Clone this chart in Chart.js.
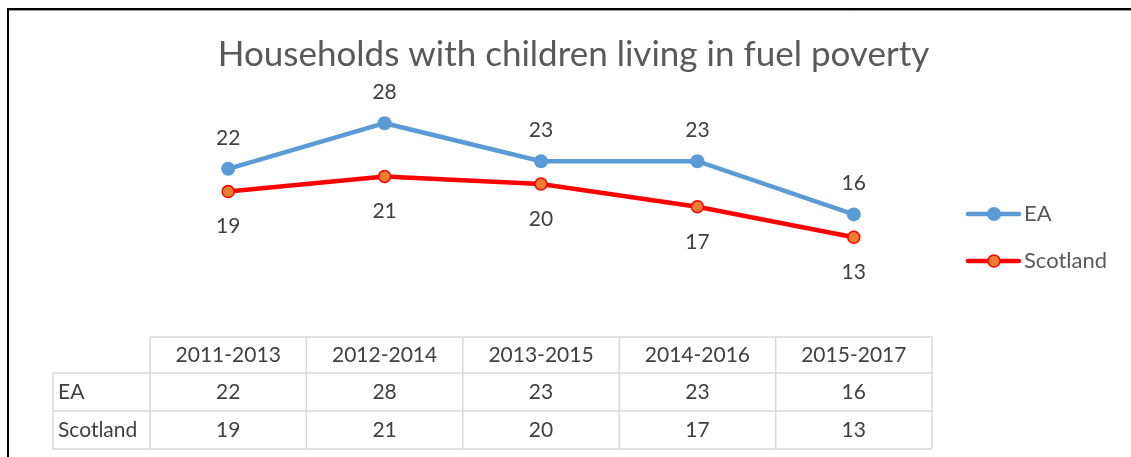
<!DOCTYPE html>
<html>
<head>
<meta charset="utf-8">
<script src="https://cdn.jsdelivr.net/npm/chart.js@4/dist/chart.umd.min.js"></script>
<style>
  html, body { margin: 0; padding: 0; background: #fff; }
  #wrap { position: relative; width: 1131px; height: 457px; }
</style>
</head>
<body>
<div id="wrap"><canvas id="c" width="1131" height="457"></canvas></div>
<script>
const categories = ['2011-2013', '2012-2014', '2013-2015', '2014-2016', '2015-2017'];
const eaValues = [22, 28, 23, 23, 16];
const scotlandValues = [19, 21, 20, 17, 13];
const seriesNames = ['EA', 'Scotland'];
const titleText = 'Households with children living in fuel poverty';

const FONT = 'Lato, "Open Sans", sans-serif';

const decorPlugin = {
  id: 'decor',
  beforeDraw(chart) {
    const ctx = chart.ctx;
    ctx.save();
    ctx.fillStyle = '#fff';
    ctx.fillRect(0, 0, chart.width, chart.height);
    ctx.strokeStyle = '#000';
    ctx.lineWidth = 2;
    ctx.beginPath();
    ctx.moveTo(8, 457);
    ctx.lineTo(8, 9);
    ctx.lineTo(1131, 9);
    ctx.stroke();
    ctx.strokeStyle = '#9a9a9a';
    ctx.lineWidth = 1;
    ctx.beginPath();
    ctx.moveTo(9, 10.5);
    ctx.lineTo(1131, 10.5);
    ctx.stroke();
    ctx.restore();
  },
  afterDraw(chart) {
    const ctx = chart.ctx;
    const x = chart.scales.x;
    const area = chart.chartArea;
    ctx.save();
    // data labels
    ctx.font = '21px ' + FONT;
    ctx.fillStyle = '#404040';
    ctx.textAlign = 'center';
    ctx.textBaseline = 'middle';
    chart.data.datasets.forEach((ds, di) => {
      const meta = chart.getDatasetMeta(di);
      meta.data.forEach((pt, i) => {
        const dy = di === 0 ? -31 : 35;
        ctx.fillText(String(ds.data[i]), pt.x, pt.y + dy);
      });
    });
    // data table
    const n = categories.length;
    const colW = (area.right - area.left) / n;
    const left = area.left, right = area.right;
    const rowH = [337, 373, 411, 449];
    const headLeft = 53;
    ctx.strokeStyle = '#d9d9d9';
    ctx.lineWidth = 1.5;
    ctx.beginPath();
    ctx.moveTo(left, rowH[0]); ctx.lineTo(right, rowH[0]);
    for (let r = 1; r < rowH.length; r++) {
      ctx.moveTo(headLeft, rowH[r]); ctx.lineTo(right, rowH[r]);
    }
    for (let i = 0; i <= n; i++) {
      const xx = left + i * colW;
      ctx.moveTo(xx, rowH[0]); ctx.lineTo(xx, rowH[3]);
    }
    ctx.moveTo(headLeft, rowH[1]); ctx.lineTo(headLeft, rowH[3]);
    ctx.stroke();

    ctx.fillStyle = '#404040';
    ctx.font = '21px ' + FONT;
    ctx.textAlign = 'center';
    categories.forEach((c, i) => {
      ctx.fillText(c, x.getPixelForValue(i), (rowH[0] + rowH[1]) / 2);
    });
    chart.data.datasets.forEach((ds, di) => {
      const cy = (rowH[di + 1] + rowH[di + 2]) / 2;
      ctx.textAlign = 'left';
      ctx.fillText(ds.label, headLeft + 5, cy);
      ctx.textAlign = 'center';
      ds.data.forEach((v, i) => ctx.fillText(String(v), x.getPixelForValue(i), cy));
    });

    // legend
    const legY = [214, 261];
    chart.data.datasets.forEach((ds, di) => {
      const y = legY[di];
      ctx.strokeStyle = ds.borderColor;
      ctx.lineWidth = 4.5;
      ctx.lineCap = 'round';
      ctx.beginPath();
      ctx.moveTo(968, y); ctx.lineTo(1019, y);
      ctx.stroke();
      ctx.beginPath();
      ctx.arc(994, y, ds.pointRadius, 0, Math.PI * 2);
      ctx.fillStyle = ds.pointBackgroundColor;
      ctx.fill();
      if (ds.pointBorderWidth > 0) {
        ctx.lineWidth = ds.pointBorderWidth;
        ctx.strokeStyle = ds.pointBorderColor;
        ctx.stroke();
      }
      ctx.fillStyle = '#595959';
      ctx.font = '22px ' + FONT;
      ctx.textAlign = 'left';
      ctx.textBaseline = 'middle';
      ctx.fillText(ds.label, 1024, y);
    });
    ctx.restore();
  }
};

new Chart(document.getElementById('c'), {
  type: 'line',
  data: {
    labels: categories,
    datasets: [
      {
        label: seriesNames[0],
        data: eaValues,
        borderColor: '#5b9bd5',
        backgroundColor: '#5b9bd5',
        borderWidth: 4.5,
        pointRadius: 7,
        pointBackgroundColor: '#5b9bd5',
        pointBorderColor: '#5b9bd5',
        pointBorderWidth: 0,
        tension: 0
      },
      {
        label: seriesNames[1],
        data: scotlandValues,
        borderColor: '#ff0000',
        backgroundColor: '#ff0000',
        borderWidth: 4.5,
        pointRadius: 6,
        pointBackgroundColor: '#ed7d31',
        pointBorderColor: '#ff0000',
        pointBorderWidth: 1.5,
        tension: 0
      }
    ]
  },
  options: {
    responsive: false,
    animation: false,
    devicePixelRatio: 1,
    layout: { padding: { left: 16, right: 0, top: 10, bottom: 0 } },
    plugins: {
      legend: { display: false },
      tooltip: { enabled: false },
      title: {
        display: true,
        text: titleText,
        color: '#595959',
        font: { family: FONT, size: 35, weight: 'normal', lineHeight: 1.2 },
        padding: { top: 24, bottom: 32 }
      }
    },
    scales: {
      x: {
        type: 'category',
        offset: true,
        grid: { display: false },
        border: { display: false },
        ticks: { display: false },
        afterFit(s) { s.height = 121; }
      },
      y: {
        min: 0, max: 30,
        position: 'left',
        grid: { display: false },
        border: { display: false },
        ticks: { display: false },
        afterFit(s) { s.width = 134; }
      },
      yR: {
        position: 'right',
        grid: { display: false },
        border: { display: false },
        ticks: { display: false },
        afterFit(s) { s.width = 199; }
      }
    }
  },
  plugins: [decorPlugin]
});
</script>
</body>
</html>
